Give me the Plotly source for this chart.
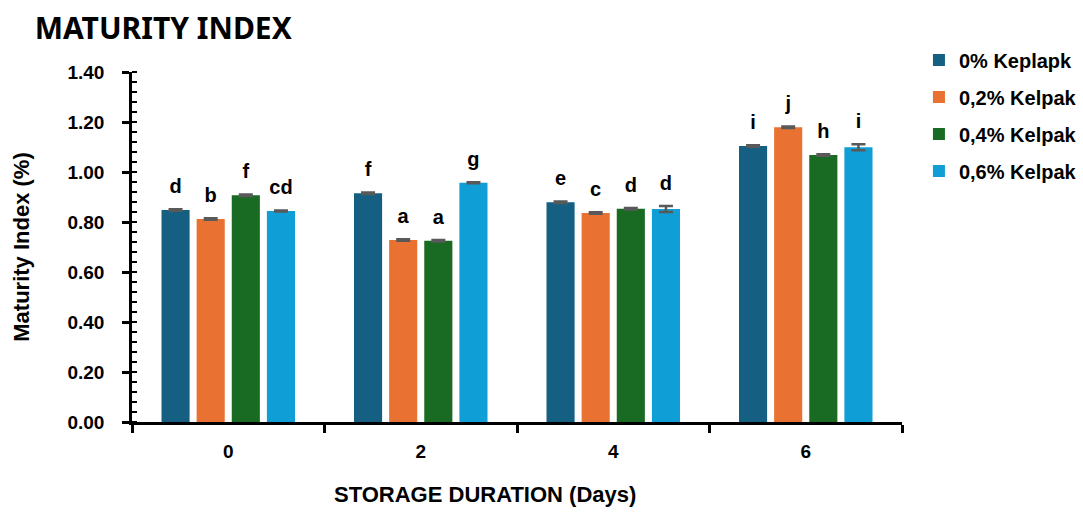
import plotly.graph_objects as go

days = ["0", "2", "4", "6"]
series_names = ["0% Keplapk", "0,2% Kelpak", "0,4% Kelpak", "0,6% Kelpak"]
colors = ["#156082", "#E97132", "#196B24", "#0F9ED5"]

vals_0 = [0.848, 0.915, 0.879, 1.104]
vals_02 = [0.812, 0.728, 0.836, 1.179]
vals_04 = [0.907, 0.725, 0.853, 1.068]
vals_06 = [0.844, 0.957, 0.852, 1.099]

err_0 = [0.003, 0.003, 0.003, 0.003]
err_02 = [0.003, 0.003, 0.003, 0.003]
err_04 = [0.003, 0.003, 0.003, 0.003]
err_06 = [0.002, 0.002, 0.012, 0.012]

letters_0 = ["d", "f", "e", "i"]
letters_02 = ["b", "a", "c", "j"]
letters_04 = ["f", "a", "d", "h"]
letters_06 = ["cd", "g", "d", "i"]

all_vals = [vals_0, vals_02, vals_04, vals_06]
all_errs = [err_0, err_02, err_04, err_06]
all_letters = [letters_0, letters_02, letters_04, letters_06]

LABEL_LIFT = 0.045

FONT = "Liberation Sans"
fig = go.Figure()
for i in range(4):
    fig.add_trace(go.Bar(
        x=days, y=all_vals[i], name=series_names[i], legendgroup=str(i),
        marker=dict(color=colors[i], line=dict(width=0)),
        offsetgroup=str(i),
        error_y=dict(type="data", array=all_errs[i], color="#595959", thickness=2.5, width=7),
    ))
for i in range(4):
    fig.add_trace(go.Scatter(
        x=days, y=[v + e + LABEL_LIFT for v, e in zip(all_vals[i], all_errs[i])],
        mode="text", text=all_letters[i], textposition="top center",
        textfont=dict(family=FONT, size=20, color="black", weight="bold"),
        offsetgroup=str(i), showlegend=False, hoverinfo="skip", cliponaxis=False,
    ))

fig.update_layout(
    width=1083, height=512,
    margin=dict(l=132, r=181, t=72, b=90, autoexpand=False),
    plot_bgcolor="white", paper_bgcolor="white",
    barmode="group", scattermode="group",
    bargap=0.27, bargroupgap=0.2,
    font=dict(family=FONT, color="black", size=16),
    title=dict(text="<b>MATURITY INDEX</b>", x=0.032, xanchor="left", y=0.945, yanchor="middle",
               font=dict(family="Noto Sans", size=30, color="black")),
    legend=dict(x=1.022, xanchor="left", y=1.09, yanchor="top",
                font=dict(family=FONT, size=20, color="black", weight="bold"),
                tracegroupgap=8, itemsizing="constant", itemwidth=30),
    xaxis=dict(
        type="category", range=[-0.5, 3.5], showline=True, linecolor="black", linewidth=2.5,
        ticks="outside", tickson="boundaries", ticklen=8, tickwidth=2.5, tickcolor="black",
        tickfont=dict(family=FONT, size=19, weight="bold"), ticklabelstandoff=10, showgrid=False,
    ),
    yaxis=dict(
        range=[0, 1.4], dtick=0.2, tickformat=".2f", showline=True, linecolor="black", linewidth=2.5,
        ticks="outside", ticklen=7, tickwidth=2.5, tickcolor="black", showgrid=False, zeroline=False,
        tickfont=dict(family=FONT, size=19, weight="bold"), ticklabelstandoff=14,
        minor=dict(dtick=0.04, ticks="inside", ticklen=5, tickwidth=2, tickcolor="black", showgrid=False),
        title=dict(text="<b>Maturity Index (%)</b>", font=dict(family=FONT, size=22), standoff=32),
    ),
    annotations=[dict(text="<b>STORAGE DURATION (Days)</b>", xref="paper", yref="paper",
                      x=0.458, y=-0.208, xanchor="center", yanchor="middle", showarrow=False,
                      font=dict(family=FONT, size=22, color="black"))],
)
fig.write_html("out.html")
